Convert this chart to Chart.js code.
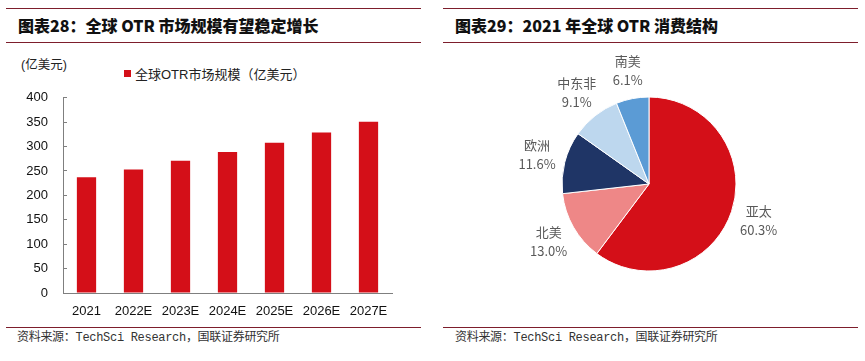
<!DOCTYPE html>
<html>
<head>
<meta charset="utf-8">
<script src="https://cdn.jsdelivr.net/npm/chart.js@4"></script>
<style>
  html, body { margin: 0; padding: 0; background: #fff; }
  body { width: 865px; height: 361px; position: relative; overflow: hidden; font-family: "Noto Sans CJK SC", sans-serif; }
  .rule { position: absolute; height: 1px; background: #7d1e2c; }
  .title { position: absolute; font-size: 16px; font-weight: 900; color: #111; line-height: 22px; white-space: nowrap; }
  .foot { position: absolute; font-size: 12px; color: #333; line-height: 16px; white-space: nowrap; font-family: "Liberation Mono", "Noto Sans CJK SC", monospace; letter-spacing: -0.3px; }
  .unit { position: absolute; font-size: 12.5px; color: #222; line-height: 16px; white-space: nowrap; font-family: "Liberation Sans", "Noto Sans CJK SC", sans-serif; }
  .legend { position: absolute; font-size: 13px; color: #222; line-height: 16px; white-space: nowrap; font-family: "Liberation Sans", "Noto Sans CJK SC", sans-serif; }
  .legend i { display: inline-block; width: 7px; height: 7px; background: #D40F18; margin-right: 4px; vertical-align: 2px; }
  canvas { position: absolute; }
</style>
</head>
<body>
<div class="rule" style="left:6px; top:8px; width:415px;"></div>
<div class="title" style="left:18px; top:14px;">图表28：全球 OTR 市场规模有望稳定增长</div>
<div class="rule" style="left:6px; top:42px; width:415px;"></div>

<div class="rule" style="left:443px; top:8px; width:415px;"></div>
<div class="title" style="left:455px; top:14px;">图表29：2021 年全球 OTR 消费结构</div>
<div class="rule" style="left:443px; top:42px; width:415px;"></div>

<div class="unit" style="left:21px; top:57px;">(亿美元)</div>
<div class="legend" id="barLegend" style="left:124px; top:67px;"></div>

<div style="position:absolute; left:0; top:71px; width:420px; height:254px;"><canvas id="bar"></canvas></div>
<div style="position:absolute; left:489px; top:44px; width:320px; height:280px;"><canvas id="pie"></canvas></div>

<div class="rule" style="left:6px; top:327px; width:415px;"></div>
<div class="foot" style="left:17px; top:330px;">资料来源：TechSci Research，国联证券研究所</div>
<div class="rule" style="left:443px; top:327px; width:415px;"></div>
<div class="foot" style="left:455px; top:330px;">资料来源：TechSci Research，国联证券研究所</div>

<script>
// ---- Data ----
const years = ['2021', '2022E', '2023E', '2024E', '2025E', '2026E', '2027E'];
const marketSize = [237, 253, 271, 289, 308, 329, 351];
const barSeriesName = '全球OTR市场规模（亿美元）';
const yTicks = [0, 50, 100, 150, 200, 250, 300, 350, 400];

const regions = ['亚太', '北美', '欧洲', '中东非', '南美'];
const shares = [60.3, 13.0, 11.6, 9.1, 6.1];
const regionColors = ['#D40F18', '#EE8787', '#1F3566', '#BDD7EE', '#5B9BD5'];

// ---- Bar chart ----
document.getElementById('barLegend').innerHTML = '<i></i>' + barSeriesName;

const axisColor = '#7f7f7f';
const tickFont = { family: '"Liberation Sans", Arial, sans-serif', size: 13 };

new Chart(document.getElementById('bar'), {
  type: 'bar',
  data: {
    labels: years,
    datasets: [{
      label: barSeriesName,
      data: marketSize,
      backgroundColor: '#D40F18',
      borderWidth: 0,
      categoryPercentage: 1.0,
      barPercentage: 0.41
    }]
  },
  options: {
    responsive: true,
    maintainAspectRatio: false,
    animation: false,
    layout: { padding: { top: 7, right: 28, bottom: 0, left: 0 } },
    plugins: { legend: { display: false }, tooltip: { enabled: false } },
    scales: {
      x: {
        grid: { display: false, drawTicks: false },
        border: { display: true, color: axisColor, width: 1 },
        ticks: { color: '#111', font: tickFont, padding: 11, maxRotation: 0, autoSkip: false },
        afterFit(scale) { scale.height = 32; }
      },
      y: {
        min: 0,
        max: 400,
        afterBuildTicks(scale) { scale.ticks = yTicks.map(v => ({ value: v })); },
        grid: { display: true, drawOnChartArea: false, drawTicks: true, tickLength: -4, color: axisColor, tickColor: axisColor },
        border: { display: true, color: axisColor, width: 1 },
        ticks: { color: '#111', font: tickFont, padding: 19 },
        afterFit(scale) { scale.width = 63; }
      }
    }
  }
});

// ---- Pie chart ----
const pieLabelPlugin = {
  id: 'pieLabels',
  afterDatasetsDraw(chart) {
    const ctx = chart.ctx;
    const meta = chart.getDatasetMeta(0);
    ctx.save();
    ctx.fillStyle = '#595959';
    ctx.font = '13px "Noto Sans CJK SC", sans-serif';
    ctx.textAlign = 'center';
    ctx.textBaseline = 'middle';
    meta.data.forEach((arc, i) => {
      const p = arc.getProps(['x', 'y', 'startAngle', 'endAngle', 'outerRadius'], true);
      const mid = (p.startAngle + p.endAngle) / 2;
      const r = p.outerRadius + 10;
      const name = chart.data.labels[i];
      const pct = chart.data.datasets[0].data[i].toFixed(1) + '%';
      const w = Math.max(ctx.measureText(name).width, ctx.measureText(pct).width);
      const cx = p.x + Math.cos(mid) * r + Math.cos(mid) * w / 2;
      const cy = p.y + Math.sin(mid) * r + Math.sin(mid) * 19;
      ctx.fillText(name, cx, cy - 9.5);
      ctx.fillText(pct, cx, cy + 9.5);
    });
    ctx.restore();
  }
};

new Chart(document.getElementById('pie'), {
  type: 'pie',
  data: {
    labels: regions,
    datasets: [{
      data: shares,
      backgroundColor: regionColors,
      borderColor: '#ffffff',
      borderWidth: 1,
      radius: 87
    }]
  },
  options: {
    responsive: true,
    maintainAspectRatio: false,
    animation: false,
    layout: { padding: 0 },
    plugins: { legend: { display: false }, tooltip: { enabled: false } }
  },
  plugins: [pieLabelPlugin]
});
</script>
</body>
</html>
